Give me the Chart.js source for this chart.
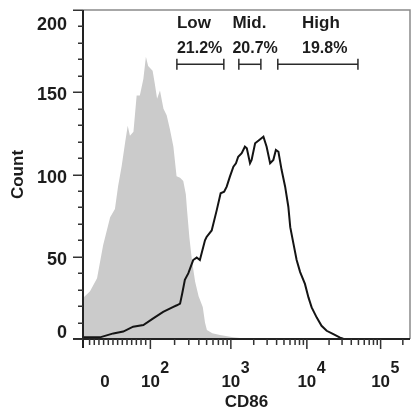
<!DOCTYPE html>
<html><head><meta charset="utf-8">
<script src="https://cdn.jsdelivr.net/npm/chart.js@4.4.1/dist/chart.umd.min.js"></script>
<style>html,body{margin:0;padding:0;background:#fff;overflow:hidden;}#wrap{width:412px;height:418px;position:relative;}canvas{display:block;}</style>
</head><body><div id="wrap"><canvas id="c"></canvas></div>
<script>
// x positions are display channels (0-1024) of the biexponential CD86 axis
const isoChannel = [0,22,44,63,85,100,110,121,132,140,147,158,168,178,189,197,204,218,225,232,241,252,262,272,283,293,304,314,322,326,333,341,351,362,375,382,388,405,429,470,520,1024];
const isoCount   = [25,29,37,57,74,79,93,105,119.6,129.6,123.5,126,148,148,158,171.6,166,163,155,146,151,140,136,127.6,117,99,98,96,88,78,62,48,35,26,19.5,10,5.5,3.5,2.4,1,0,0];
const cd86Channel = [0,53,74,95,126,157,189,220,251,283,294,304,311,319,330,345,356,366,382,387,403,419,431,442,450,460,471,479,486,497,507,513,523,528,539,552,565,575,586,596,604,612,622,633,643,649,659,669,680,695,706,716,732,747,763,784,805,815,1024];
const cd86Count   = [1,1,2.2,3.4,4.5,7.5,8.5,12.5,16.5,19.5,20.5,21.5,28,36,40,48,49.5,48,60,62,66,78.5,88.6,89.5,92.6,98.7,104.7,106.8,110.8,112.9,116.9,115.9,106.8,108.8,119,121,123,116.9,106.8,108.8,114.9,113.8,102.7,92.6,80.4,68,58,48,40.7,33.5,25.3,19.2,13,8,5,2.9,0.8,0.2,0];
// gates
const gateNames = ['Low','Mid.','High'];
const gatePercents = ['21.2%','20.7%','19.8%'];
const gateStart = [294,488,610];
const gateEnd = [441,557,861];
const gateLevel = 167;
const gateLabelChannel = [294,468,686];
const gateNameLevel = 189;
const gatePercentLevel = 174;
// axis ticks
const xTickChannels = [69,211,463,701,932];
const xTickBase = ['0','10','10','10','10'];
const xTickExp = ['','2','3','4','5'];
const xLowTickStart = 6;
const yTickValues = [0,50,100,150,200];
const yMinorStep = 10;

const FONT = '"Liberation Sans", Arial, Helvetica, sans-serif';
const TXT = '#1c1c1c';

const pts = (xs, ys) => xs.map((v, i) => ({x: v, y: ys[i]}));

const gateSets = gateStart.map((s, i) => ({
  type: 'line',
  data: [{x: s, y: gateLevel}, {x: gateEnd[i], y: gateLevel}],
  borderColor: '#2a2a2a', borderWidth: 1.5,
  pointStyle: 'line', pointRotation: 90, pointRadius: 5.5,
  pointBorderColor: '#2a2a2a', pointBorderWidth: 1.5,
  fill: false, order: 0
}));

const flowPlugin = {
  id: 'flowAxes',
  afterDraw(chart) {
    const {ctx, chartArea: a, scales: {x, y}} = chart;
    ctx.save();
    // frame
    ctx.strokeStyle = '#8a8a8a'; ctx.lineWidth = 1.5;
    ctx.beginPath(); ctx.moveTo(a.left, a.top); ctx.lineTo(a.right, a.top); ctx.lineTo(a.right, a.bottom); ctx.stroke();
    ctx.strokeStyle = '#222'; ctx.lineWidth = 2;
    ctx.beginPath();
    ctx.moveTo(a.left, a.top); ctx.lineTo(a.left, a.bottom + 9);
    ctx.moveTo(a.left - 10, a.bottom); ctx.lineTo(a.right, a.bottom);
    ctx.stroke();
    // y ticks
    ctx.lineWidth = 1.5; ctx.strokeStyle = '#333';
    ctx.beginPath();
    for (let v = y.min; v <= y.max; v += yMinorStep) {
      const py = Math.round(y.getPixelForValue(v)) + 0.25;
      const len = yTickValues.includes(v) ? 10 : 5;
      ctx.moveTo(a.left - len, py); ctx.lineTo(a.left, py);
    }
    ctx.stroke();
    // x ticks
    const majors = xTickChannels.slice(1);
    const minors = [];
    const lowSteps = 14;
    for (let k = 1; k < lowSteps; k++) minors.push(xLowTickStart + k * (majors[0] - xLowTickStart) / lowSteps);
    for (let d = 0; d < majors.length; d++) {
      const c0 = majors[d];
      const w = d + 1 < majors.length ? majors[d + 1] - c0 : c0 - majors[d - 1];
      for (let m = 2; m <= 9; m++) minors.push(c0 + Math.log10(m) * w);
    }
    ctx.beginPath();
    majors.forEach(c => { const px = x.getPixelForValue(c); ctx.moveTo(px, a.bottom); ctx.lineTo(px, a.bottom + 10); });
    minors.forEach(c => { if (c > x.max) return; const px = x.getPixelForValue(c); ctx.moveTo(px, a.bottom); ctx.lineTo(px, a.bottom + 6); });
    ctx.stroke();
    // y labels
    ctx.fillStyle = TXT;
    ctx.font = 'bold 18px ' + FONT;
    ctx.textAlign = 'right'; ctx.textBaseline = 'alphabetic';
    yTickValues.forEach(v => {
      const py = y.getPixelForValue(v);
      const by = Math.min(Math.max(py + 8, a.top + 20), a.bottom - 1);
      ctx.fillText(String(v), a.left - 16, by);
    });
    // x labels
    xTickChannels.forEach((c, i) => {
      const px = x.getPixelForValue(c);
      ctx.font = 'bold 17px ' + FONT;
      ctx.textAlign = 'center';
      ctx.fillText(xTickBase[i], px, a.bottom + 48);
      if (xTickExp[i]) {
        const w = ctx.measureText(xTickBase[i]).width;
        ctx.font = 'bold 16px ' + FONT;
        ctx.textAlign = 'left';
        ctx.fillText(xTickExp[i], px + w / 2 + 0.5, a.bottom + 34);
      }
    });
    // gate labels
    ctx.textAlign = 'left';
    ctx.font = 'bold 17px ' + FONT;
    gateNames.forEach((t, i) => {
      ctx.fillText(t, x.getPixelForValue(gateLabelChannel[i]), y.getPixelForValue(gateNameLevel));
    });
    ctx.font = 'bold 16px ' + FONT;
    gatePercents.forEach((t, i) => {
      ctx.fillText(t, x.getPixelForValue(gateLabelChannel[i]), y.getPixelForValue(gatePercentLevel));
    });
    ctx.restore();
  }
};

new Chart(document.getElementById('c'), {
  type: 'line',
  data: {
    datasets: [
      ...gateSets,
      {data: pts(cd86Channel, cd86Count), borderColor: '#141414', borderWidth: 2, pointRadius: 0, fill: false, tension: 0, order: 1},
      {data: pts(isoChannel, isoCount), borderWidth: 0, borderColor: 'rgba(0,0,0,0)', backgroundColor: '#cbcbcb', pointRadius: 0, fill: 'origin', tension: 0, order: 2}
    ]
  },
  options: {
    responsive: true, maintainAspectRatio: false, animation: false, devicePixelRatio: 1,
    layout: {autoPadding: false, padding: {top: 10, right: 2, left: 0, bottom: 0}},
    plugins: {legend: {display: false}, tooltip: {enabled: false}},
    events: [],
    scales: {
      x: {
        type: 'linear', min: 0, max: 1024,
        grid: {display: false, drawTicks: false}, border: {display: false},
        ticks: {display: false},
        title: {display: true, text: 'CD86', color: TXT, font: {family: FONT, size: 17, weight: 'bold'}, padding: {top: 0, bottom: 5}},
        afterFit: s => { s.height = 79; }
      },
      y: {
        type: 'linear', min: 0, max: 200,
        grid: {display: false, drawTicks: false}, border: {display: false},
        ticks: {display: false},
        title: {display: true, text: 'Count', color: TXT, font: {family: FONT, size: 17, weight: 'bold'}, padding: {top: 8, bottom: 0}},
        afterFit: s => { s.width = 83; }
      }
    }
  },
  plugins: [flowPlugin]
});
</script>
</body></html>
